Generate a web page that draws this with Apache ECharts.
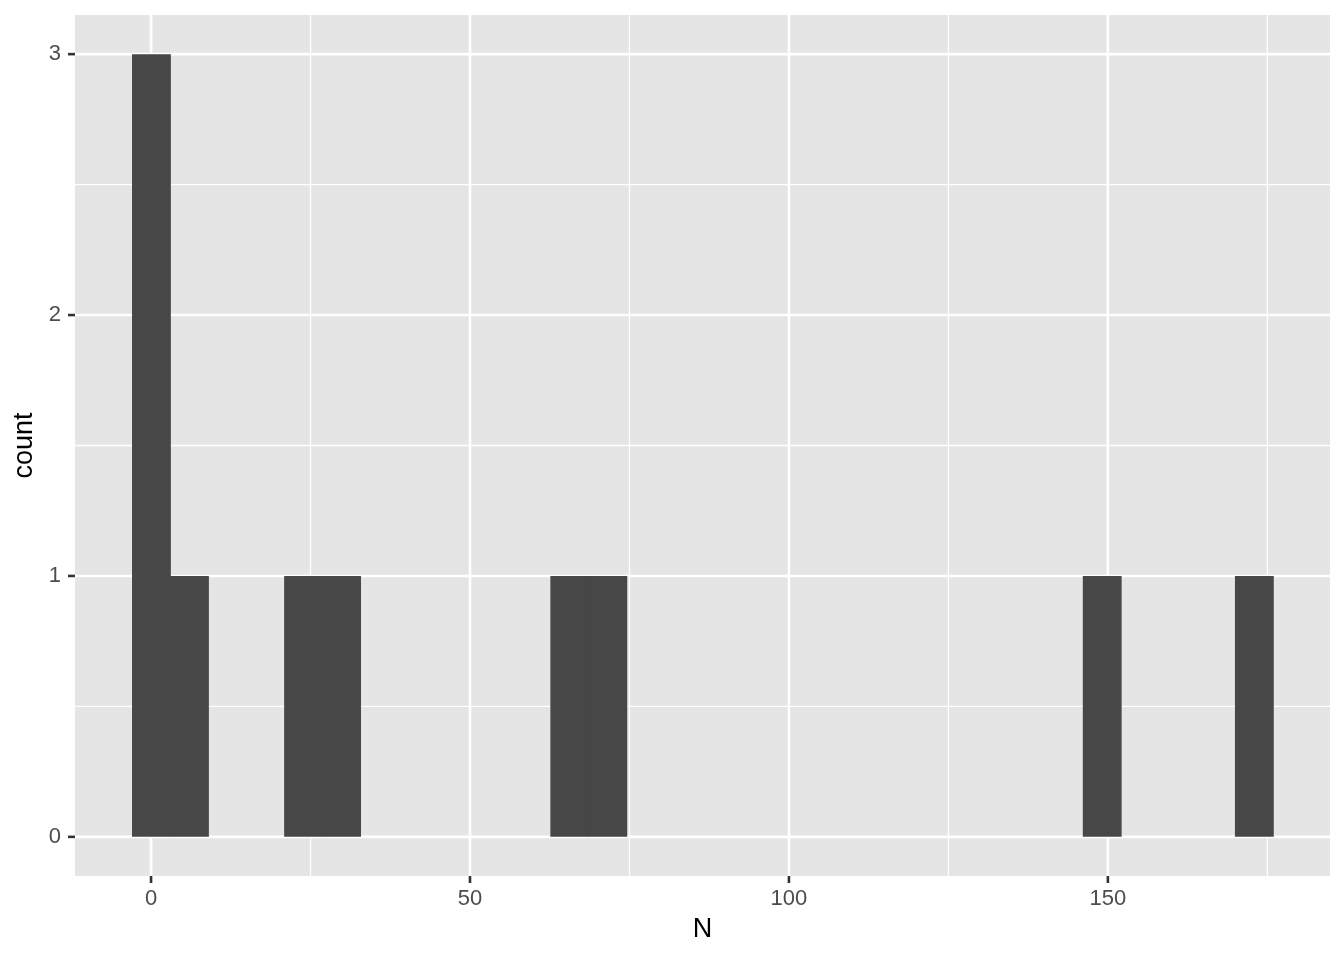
<!DOCTYPE html>
<html><head><meta charset="utf-8">
<script src="https://cdn.jsdelivr.net/npm/echarts@6/dist/echarts.min.js"></script>
<style>html,body{margin:0;padding:0;background:#fff}#c{width:1344px;height:960px}</style>
</head><body><div id="c"></div>
<script>
// Histogram of N (30 bins, binwidth ~5.962)
const binWidth = 5.962;
const binCenters = [0, 5.962, 23.848, 29.81, 65.582, 71.544, 149.05, 172.898];
const binCounts = [3, 1, 1, 1, 1, 1, 1, 1];
const xTicks = [0, 50, 100, 150];
const xMinor = [25, 75, 125, 175];
const yTicks = [0, 1, 2, 3];
const yMinor = [0.5, 1.5, 2.5];

const xMin = -11.92, xMax = 184.82, yMin = -0.15, yMax = 3.15;
const barData = binCenters.map((c, i) => [c - binWidth / 2, c + binWidth / 2, binCounts[i]]);
const FONT = 'Liberation Sans';

function gridSeries(vals, axis, width) {
  return {
    type: 'custom', silent: true, z: 1,
    data: vals.map(v => [v]),
    renderItem: function (params, api) {
      const v = api.value(0);
      let p1, p2;
      if (axis === 'x') { p1 = api.coord([v, yMin]); p2 = api.coord([v, yMax]); }
      else { p1 = api.coord([xMin, v]); p2 = api.coord([xMax, v]); }
      return { type: 'line', shape: { x1: p1[0], y1: p1[1], x2: p2[0], y2: p2[1] },
        style: { stroke: '#ffffff', lineWidth: width } };
    }
  };
}
function tickSeries(vals, axis) {
  return {
    type: 'custom', silent: true, z: 3, clip: false,
    data: vals.map(v => [v]),
    renderItem: function (params, api) {
      const v = api.value(0);
      let s;
      if (axis === 'x') { const p = api.coord([v, yMin]); s = { x1: p[0], y1: p[1], x2: p[0], y2: p[1] + 7 }; }
      else { const p = api.coord([xMin, v]); s = { x1: p[0] - 7, y1: p[1], x2: p[0], y2: p[1] }; }
      return { type: 'line', shape: s, style: { stroke: '#333333', lineWidth: 2.6 } };
    }
  };
}

const chart = echarts.init(document.getElementById('c'), null, { renderer: 'canvas' });
chart.setOption({
  animation: false,
  backgroundColor: '#ffffff',
  grid: { left: 75, right: 14, top: 15, bottom: 84, show: true, backgroundColor: '#E5E5E5', borderWidth: 0 },
  xAxis: {
    type: 'value', min: xMin, max: xMax,
    name: 'N', nameLocation: 'middle', nameGap: 40,
    nameTextStyle: { color: '#000', fontSize: 27, fontFamily: FONT },
    axisLine: { show: false },
    axisTick: { show: false },
    axisLabel: { customValues: xTicks, color: '#4D4D4D', fontSize: 22, margin: 12, fontFamily: FONT },
    splitLine: { show: false }
  },
  yAxis: {
    type: 'value', min: yMin, max: yMax,
    name: 'count', nameLocation: 'middle', nameGap: 33, nameRotate: 90,
    nameTextStyle: { color: '#000', fontSize: 27, fontFamily: FONT },
    axisLine: { show: false },
    axisTick: { show: false },
    axisLabel: { customValues: yTicks, color: '#4D4D4D', fontSize: 22, margin: 14, fontFamily: FONT },
    splitLine: { show: false }
  },
  series: [
    gridSeries(xMinor, 'x', 1.3),
    gridSeries(yMinor, 'y', 1.3),
    gridSeries(xTicks, 'x', 2.6),
    gridSeries(yTicks, 'y', 2.6),
    tickSeries(xTicks, 'x'),
    tickSeries(yTicks, 'y'),
    {
      type: 'custom', z: 5,
      data: barData,
      renderItem: function (params, api) {
        const p1 = api.coord([api.value(0), api.value(2)]);
        const p2 = api.coord([api.value(1), 0]);
        return { type: 'rect', shape: { x: p1[0], y: p1[1], width: p2[0] - p1[0] + 0.8, height: p2[1] - p1[1] },
          style: { fill: '#474747' } };
      }
    }
  ]
});
</script></body></html>
